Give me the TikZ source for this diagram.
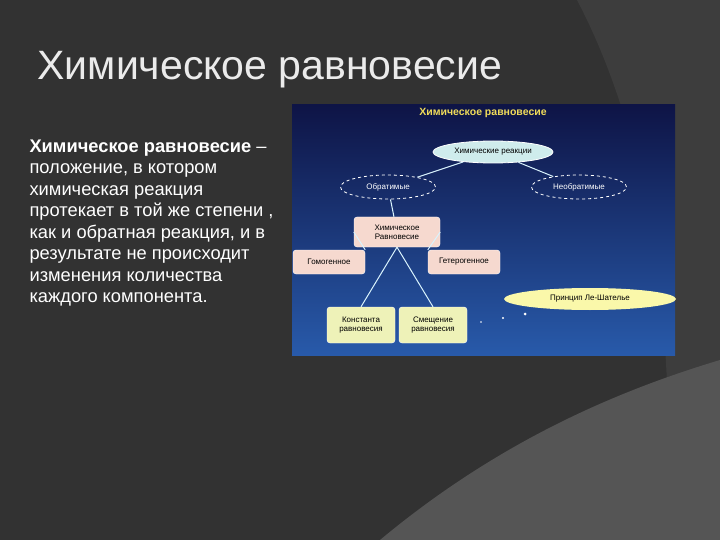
\documentclass[tikz,border=0pt]{standalone}
\usepackage{fontspec}
\setmainfont{Liberation Sans}
\usetikzlibrary{shapes.geometric}
\definecolor{bg}{HTML}{323232}
\definecolor{bg2}{HTML}{3D3D3D}
\definecolor{bg3}{HTML}{555555}
\definecolor{pinkb}{HTML}{F6D9CF}
\definecolor{yelb}{HTML}{EEF2B8}
\definecolor{cyanb}{HTML}{CFECEC}
\tikzset{
 ell/.style={ellipse,draw=white,line width=0.8pt,fill=cyanb,minimum width=120pt,minimum height=22pt,font=\fontsize{8}{9}\selectfont,text=black,inner sep=1pt},
 dell/.style={ellipse,draw=white,dashed,line width=0.8pt,minimum width=95pt,minimum height=24pt,font=\fontsize{8}{9}\selectfont,text=white,inner sep=1pt},
 pbox/.style={rectangle,rounded corners=3pt,fill=pinkb,draw=white,minimum height=24pt,font=\fontsize{8}{9}\selectfont,align=center,inner sep=2pt},
 ybox/.style={rectangle,rounded corners=3pt,fill=yelb,draw=white,minimum width=68pt,minimum height=36pt,font=\fontsize{8}{9}\selectfont,align=center,inner sep=2pt},
 conn/.style={draw=white!85!cyan,line width=1pt}
}
\begin{document}
\begin{tikzpicture}[x=1pt,y=-1pt]
\fill[bg] (0,0) rectangle (720,540);
\fill[bg2] (577,0) .. controls (640,120) and (680,300) .. (665,540) -- (720,540) -- (720,0) -- cycle;
\fill[bg3] (380,540) .. controls (500,440) and (620,390) .. (720,360) -- (720,540) -- cycle;
\node[anchor=west,text=white!92!black,font=\fontsize{41}{46}\selectfont] (t) at (34,70) {Химическое равновесие};
\node[anchor=north west,text=white,align=left,font=\fontsize{18.3}{21.5}\selectfont] (body) at (26,136)
{\textbf{Химическое равновесие} –\\положение, в котором\\химическая реакция\\протекает в той же степени ,\\как и обратная реакция, и в\\результате не происходит\\изменения количества\\каждого компонента.};
\shade[top color={rgb,255:red,14;green,20;blue,70},bottom color={rgb,255:red,40;green,90;blue,170}] (292,105) rectangle (675,355);
\node[text={rgb,255:red,240;green,220;blue,90},font=\bfseries\fontsize{10.5}{12}\selectfont] (dt) at (483,113) {Химическое равновесие};
\node[ell] (hr) at (493,152) {Химические реакции};
\node[dell] (ob) at (388,187) {Обратимые};
\node[dell] (nob) at (579,187) {Необратимые};
\node[pbox,minimum width=86pt,minimum height=30pt] (cr) at (397,232) {Химическое\\Равновесие};
\node[pbox,minimum width=72pt] (hom) at (329,262) {Гомогенное};
\node[pbox,minimum width=72pt] (het) at (464,262) {Гетерогенное};
\node[ybox] (k) at (361,325) {Константа\\равновесия};
\node[ybox] (s) at (433,325) {Смещение\\равновесия};
\node[ellipse,fill={rgb,255:red,250;green,248;blue,170},minimum width=172pt,minimum height=22pt,font=\fontsize{8}{9}\selectfont,inner sep=0pt] (lsh) at (590,299) {Принцип Ле-Шателье};
\fill[white] (525,314) circle (1.5) (503,318) circle (1.2) (481,322) circle (0.8);
\draw[conn] (hr) -- (ob);
\draw[conn] (hr) -- (nob);
\draw[conn] (ob) -- (cr);
\draw[conn] (cr.west) -- (hom.north east);
\draw[conn] (cr.east) -- (het.north west);
\draw[conn] (cr.south) -- (k.north);
\draw[conn] (cr.south) -- (s.north);
\end{tikzpicture}
\end{document}
